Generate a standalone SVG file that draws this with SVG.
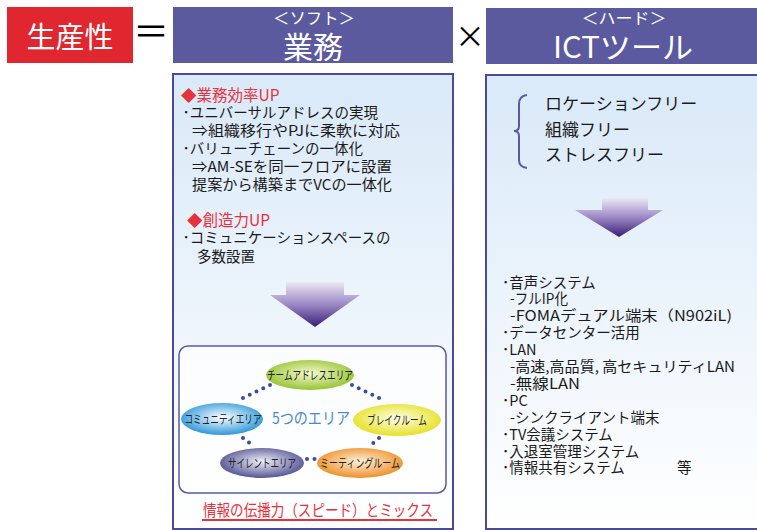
<svg xmlns="http://www.w3.org/2000/svg" width="757" height="530" viewBox="0 0 757 530">
<defs>
<linearGradient id="bodyG" x1="0" y1="0" x2="0" y2="1">
<stop offset="0" stop-color="#d9e9f8"/>
<stop offset="1" stop-color="#ffffff"/>
</linearGradient>
<linearGradient id="arrowG" x1="0" y1="0" x2="0" y2="1">
<stop offset="0" stop-color="#ece8f4"/>
<stop offset="0.5" stop-color="#9b88c4"/>
<stop offset="1" stop-color="#3a1d78"/>
</linearGradient>
<radialGradient id="gGreen" cx="0.5" cy="0.45" r="0.6"><stop offset="0" stop-color="#f6fad0"/><stop offset="1" stop-color="#8dbf24"/></radialGradient>
<radialGradient id="gBlue" cx="0.5" cy="0.45" r="0.6"><stop offset="0" stop-color="#ffffff"/><stop offset="1" stop-color="#1a8fd6"/></radialGradient>
<radialGradient id="gYellow" cx="0.5" cy="0.45" r="0.6"><stop offset="0" stop-color="#ffffe8"/><stop offset="1" stop-color="#e4de14"/></radialGradient>
<radialGradient id="gNavy" cx="0.5" cy="0.45" r="0.6"><stop offset="0" stop-color="#f0f0f8"/><stop offset="1" stop-color="#45458c"/></radialGradient>
<radialGradient id="gOrange" cx="0.5" cy="0.45" r="0.6"><stop offset="0" stop-color="#fff2dc"/><stop offset="1" stop-color="#eb8618"/></radialGradient>
</defs>
<style>
text{font-family:"Noto Sans CJK JP","Noto Sans",sans-serif;}
.hdr{fill:#5b5a9f;}
.wt{fill:#ffffff;}
.body{fill:url(#bodyG);stroke:#4b4a9a;stroke-width:2;}
.t{font-size:14.5px;fill:#1a1a1a;}
.red{font-size:15.5px;fill:#e6323c;}
.r1{font-size:17px;fill:#1a1a1a;}
.r2{font-size:14.5px;fill:#1a1a1a;}
.el{font-size:12px;fill:#222;text-anchor:middle;}
.dots{fill:none;stroke:#3c4c9c;stroke-width:4;stroke-linecap:round;stroke-dasharray:0 7.5;}
</style>

<g id="productivity">
<rect x="7" y="7" width="126" height="56" fill="#e0262f"/>
<text x="70" y="48" class="wt" font-size="29" text-anchor="middle">生産性</text>
</g>
<g id="equals"><text x="151" y="45" font-size="36" text-anchor="middle" fill="#000">＝</text></g>
<g id="soft-header">
<rect x="173" y="7" width="280" height="56" class="hdr"/>
<text x="314" y="24" class="wt" font-size="16" text-anchor="middle" textLength="82" lengthAdjust="spacingAndGlyphs">＜ソフト＞</text>
<text x="313" y="58" class="wt" font-size="30" text-anchor="middle" textLength="60" lengthAdjust="spacingAndGlyphs">業務</text>
</g>
<g id="times"><text x="470" y="47" font-size="30" text-anchor="middle" fill="#000">×</text></g>
<g id="hard-header">
<rect x="486" y="8" width="275" height="56" class="hdr"/>
<text x="624" y="24" class="wt" font-size="16" text-anchor="middle" textLength="85" lengthAdjust="spacingAndGlyphs">＜ハード＞</text>
<text x="623" y="58" class="wt" font-size="30" text-anchor="middle" textLength="140" lengthAdjust="spacingAndGlyphs">ICTツール</text>
</g>

<g id="soft-body">
<rect x="173" y="74" width="280" height="455" class="body"/>
<text x="181" y="100.5" class="red">◆業務効率UP</text>
<text x="182.5" y="118" class="t">･ユニバーサルアドレスの実現</text>
<text x="192" y="136" class="t" textLength="208" lengthAdjust="spacingAndGlyphs">⇒組織移行やPJに柔軟に対応</text>
<text x="182.5" y="154" class="t">･バリューチェーンの一体化</text>
<text x="192" y="172" class="t" textLength="200" lengthAdjust="spacingAndGlyphs">⇒AM-SEを同一フロアに設置</text>
<text x="192" y="190" class="t" textLength="200" lengthAdjust="spacingAndGlyphs">提案から構築までVCの一体化</text>
<text x="187" y="225.5" class="red">◆創造力UP</text>
<text x="182.5" y="243" class="t">･コミュニケーションスペースの</text>
<text x="197" y="262" class="t">多数設置</text>
<polygon points="286,282 344,282 344,295 360,295 315,327 270,295 286,295" fill="url(#arrowG)"/>
</g>

<g id="areas">
<rect x="179" y="346" width="267" height="147" rx="9" fill="#ffffff" fill-opacity="0.7" stroke="#5a5aa0" stroke-width="1.5"/>
<g id="conn">
<path class="dots" d="M270,385 L241,399"/>
<path class="dots" d="M352,385 L381,399"/>
<path class="dots" d="M243,438 L251,444"/>
<path class="dots" d="M379,438 L372,444"/>
<path class="dots" d="M307,459 L316,459"/>
</g>
<g id="team-address"><ellipse cx="310" cy="375" rx="44" ry="15" fill="url(#gGreen)"/><text x="310" y="379.5" class="el" textLength="86" lengthAdjust="spacingAndGlyphs">チームアドレスエリア</text></g>
<g id="community"><ellipse cx="222" cy="419" rx="41" ry="16" fill="url(#gBlue)"/><text x="223" y="423.5" class="el" textLength="77" lengthAdjust="spacingAndGlyphs">コミュニティエリア</text></g>
<g id="break"><ellipse cx="397" cy="420" rx="44" ry="16" fill="url(#gYellow)"/><text x="397" y="424.5" class="el" textLength="60" lengthAdjust="spacingAndGlyphs">ブレイクルーム</text></g>
<g id="silent"><ellipse cx="262" cy="463" rx="42" ry="15" fill="url(#gNavy)"/><text x="262" y="467.5" class="el" textLength="68" lengthAdjust="spacingAndGlyphs">サイレントエリア</text></g>
<g id="meeting"><ellipse cx="360" cy="463" rx="43" ry="15" fill="url(#gOrange)"/><text x="360" y="467.5" class="el" textLength="80" lengthAdjust="spacingAndGlyphs">ミーティングルーム</text></g>
<text x="311" y="424" font-size="16" fill="#4a88cc" text-anchor="middle" textLength="78" lengthAdjust="spacingAndGlyphs">5つのエリア</text>
</g>
<g id="caption">
<text x="318" y="516" font-size="16" fill="#e6323c" text-anchor="middle" textLength="230" lengthAdjust="spacingAndGlyphs">情報の伝播力（スピード）とミックス</text>
<line x1="202" y1="520" x2="437" y2="520" stroke="#e6323c" stroke-width="2"/>
</g>

<g id="hard-body">
<rect x="486" y="75" width="280" height="454" class="body"/>
<path d="M527,95 Q519,96 519,104 L519,126 Q519,131 514,131 Q519,131 519,136 L519,160 Q519,167 527,168" fill="none" stroke="#5b5a9f" stroke-width="2"/>
<text x="545" y="110" class="r1">ロケーションフリー</text>
<text x="545" y="136" class="r1">組織フリー</text>
<text x="545" y="161" class="r1">ストレスフリー</text>
<polygon points="602,198 648,198 648,210 663,210 619,237 575,210 602,210" fill="url(#arrowG)"/>
<text x="502" y="287.5" class="r2">･音声システム</text>
<text x="510" y="304.4" class="r2" textLength="58" lengthAdjust="spacingAndGlyphs">-フルIP化</text>
<text x="510" y="321.3" class="r2" textLength="222" lengthAdjust="spacingAndGlyphs">-FOMAデュアル端末（N902iL)</text>
<text x="502" y="338.2" class="r2">･データセンター活用</text>
<text x="502" y="355.1" class="r2">･LAN</text>
<text x="510" y="372" class="r2" textLength="225" lengthAdjust="spacingAndGlyphs">-高速,高品質, 高セキュリティLAN</text>
<text x="510" y="388.9" class="r2" textLength="70" lengthAdjust="spacingAndGlyphs">-無線LAN</text>
<text x="502" y="405.8" class="r2">･PC</text>
<text x="510" y="422.7" class="r2">-シンクライアント端末</text>
<text x="502" y="439.6" class="r2">･TV会議システム</text>
<text x="502" y="456.5" class="r2">･入退室管理システム</text>
<text x="502" y="473.4" class="r2">･情報共有システム</text>
<text x="677" y="473.4" class="r2">等</text>
</g>
</svg>
